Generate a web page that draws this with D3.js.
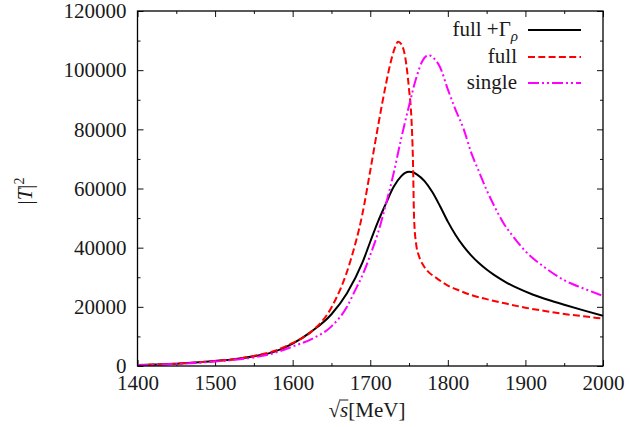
<!DOCTYPE html>
<html>
<head>
<meta charset="utf-8">
<script src="https://cdn.jsdelivr.net/npm/d3@7"></script>
<style>
  body { margin: 0; background: white; }
  text { font-family: "Liberation Serif", "Times New Roman", serif; fill: #1a1a1a; }
</style>
</head>
<body>
<svg id="vis"></svg>
<script>
// axis ticks
const X_MAJOR = [1400, 1500, 1600, 1700, 1800, 1900, 2000]
const X_MINOR = [1450, 1550, 1650, 1750, 1850, 1950]
const Y_MAJOR = [0, 20000, 40000, 60000, 80000, 100000, 120000]
const Y_MINOR = [10000, 30000, 50000, 70000, 90000, 110000]

// full + Gamma_rho (black solid)
const fullRhoS = [1400, 1425, 1450, 1475, 1500, 1525, 1550, 1575, 1600, 1625, 1650, 1670, 1690, 1700, 1710, 1720, 1730, 1740, 1745, 1750, 1755, 1760, 1770, 1780, 1790, 1800, 1810, 1820, 1830, 1840, 1850, 1860, 1875, 1890, 1910, 1930, 1950, 1975, 2000]
const fullRhoT = [300, 500, 800, 1200, 1700, 2300, 3300, 4700, 7600, 11800, 17500, 24600, 35000, 42000, 48800, 54800, 60500, 64200, 65300, 65700, 65500, 64800, 62500, 58800, 54000, 48800, 44300, 40500, 37400, 34800, 32600, 30700, 28300, 26300, 24100, 22300, 20700, 18800, 17000]

// full (red dashed)
const fullS = [1400, 1425, 1450, 1475, 1500, 1525, 1550, 1575, 1600, 1625, 1650, 1675, 1690, 1700, 1710, 1720, 1726, 1731, 1736, 1740, 1745, 1750, 1753, 1755, 1756.5, 1759, 1763, 1768, 1775, 1785, 1800, 1815, 1830, 1850, 1875, 1900, 1925, 1950, 1975, 2000]
const fullT = [300, 500, 800, 1200, 1700, 2300, 3400, 5000, 7800, 11800, 19800, 36000, 51500, 66000, 81000, 95000, 102300, 107000, 109600, 108800, 104500, 93500, 84000, 70000, 50000, 41500, 37000, 34200, 31800, 29800, 27200, 25500, 24000, 22600, 21100, 19700, 18600, 17600, 16800, 16000]

// single (magenta dash-dot-dot)
const singleS = [1400, 1425, 1450, 1475, 1500, 1525, 1550, 1575, 1600, 1625, 1650, 1670, 1680, 1690, 1700, 1710, 1720, 1730, 1740, 1750, 1760, 1767, 1775, 1782, 1790, 1800, 1810, 1820, 1830, 1840, 1850, 1860, 1872, 1885, 1900, 1925, 1950, 1975, 2000]
const singleT = [250, 430, 700, 1050, 1500, 2100, 2900, 4300, 6600, 9200, 13400, 20000, 25300, 30700, 37500, 45000, 54500, 65000, 77000, 88000, 98000, 103000, 105100, 104000, 101000, 93500, 86600, 80400, 72200, 65800, 59500, 54000, 48200, 43500, 38800, 33300, 29000, 26200, 23700]

const LEFT = 137.5, RIGHT = 603, TOP = 11, BOTTOM = 366
const FONT = '"Liberation Serif", "Times New Roman", serif'

var svg = d3.select('#vis')
    .attr('width', 630)
    .attr('height', 427)

var x = d3.scaleLinear().domain([1400, 2000]).range([LEFT, RIGHT])
var y = d3.scaleLinear().domain([0, 120000]).range([BOTTOM, TOP])

// draw a set of inward ticks, optionally labelled
function drawTicks(axisFn, scale, values, size, pos, labels) {
    var g = svg.append('g')
        .attr('transform', pos)
        .call(axisFn(scale)
            .tickValues(values)
            .tickSize(size)
            .tickPadding(12)
            .tickFormat(labels ? d3.format('d') : ''))
    g.attr('font-family', FONT).attr('font-size', 21)
    g.select('.domain').remove()
    g.selectAll('.tick line').attr('stroke', '#111').attr('stroke-width', 1)
    g.selectAll('.tick text').attr('fill', '#1a1a1a')
    return g
}

// bottom / top
drawTicks(d3.axisBottom, x, X_MAJOR, -6, `translate(0,${BOTTOM})`, true)
    .selectAll('.tick text').attr('y', 9).attr('dy', '0.71em')
drawTicks(d3.axisBottom, x, X_MINOR, -3, `translate(0,${BOTTOM})`, false)
drawTicks(d3.axisTop, x, X_MAJOR, -6, `translate(0,${TOP})`, false)
drawTicks(d3.axisTop, x, X_MINOR, -3, `translate(0,${TOP})`, false)

// left / right
drawTicks(d3.axisLeft, y, Y_MAJOR, -6, `translate(${LEFT},0)`, true)
    .selectAll('.tick text').attr('x', -11)
drawTicks(d3.axisLeft, y, Y_MINOR, -3, `translate(${LEFT},0)`, false)
drawTicks(d3.axisRight, y, Y_MAJOR, -6, `translate(${RIGHT},0)`, false)
drawTicks(d3.axisRight, y, Y_MINOR, -3, `translate(${RIGHT},0)`, false)

// clip for the curves
svg.append('clipPath').attr('id', 'plot')
    .append('rect')
    .attr('x', LEFT).attr('y', TOP)
    .attr('width', RIGHT - LEFT).attr('height', BOTTOM - TOP)

var line = d3.line()
    .x(d => x(d[0]))
    .y(d => y(d[1]))
    .curve(d3.curveMonotoneX)

var series = [
    { s: fullRhoS, t: fullRhoT, color: '#000000', dash: null },
    { s: fullS, t: fullT, color: '#ff0000', dash: '7,3.3' },
    { s: singleS, t: singleT, color: '#ff00ff', dash: '11,3,2,3,2,3' }
]

series.forEach(function(d) {
    svg.append('path')
        .datum(d.s.map((v, i) => [v, d.t[i]]))
        .attr('clip-path', 'url(#plot)')
        .attr('d', line)
        .attr('fill', 'none')
        .attr('stroke', d.color)
        .attr('stroke-width', 2)
        .attr('stroke-dasharray', d.dash)
})

// frame
svg.append('rect')
    .attr('x', LEFT).attr('y', TOP)
    .attr('width', RIGHT - LEFT).attr('height', BOTTOM - TOP)
    .attr('fill', 'none')
    .attr('stroke', '#000')
    .attr('stroke-width', 1.3)

// legend
var legendY = [36, 63, 89]
var leg1 = svg.append('text')
    .attr('x', 518).attr('y', legendY[0])
    .attr('text-anchor', 'end')
    .attr('font-family', FONT)
    .style('font-size', '21px')
leg1.append('tspan').text('full +Γ')
leg1.append('tspan').attr('dy', 5).style('font-size', '15px').style('font-style', 'italic').text('ρ')

svg.append('text')
    .attr('x', 517).attr('y', legendY[1])
    .attr('text-anchor', 'end')
    .attr('font-family', FONT)
    .style('font-size', '21px')
    .text('full')

svg.append('text')
    .attr('x', 517).attr('y', legendY[2])
    .attr('text-anchor', 'end')
    .attr('font-family', FONT)
    .style('font-size', '21px')
    .text('single')

series.forEach(function(d, i) {
    svg.append('line')
        .attr('x1', 528).attr('x2', 581)
        .attr('y1', legendY[i] - 6).attr('y2', legendY[i] - 6)
        .attr('stroke', d.color)
        .attr('stroke-width', 2)
        .attr('stroke-dasharray', d.dash)
})

// y label
var ylab = svg.append('text')
    .attr('transform', 'translate(32,191) rotate(-90)')
    .attr('text-anchor', 'middle')
    .attr('font-family', FONT)
    .style('font-size', '21px')
ylab.append('tspan').text('|')
ylab.append('tspan').style('font-style', 'italic').text('T')
ylab.append('tspan').text('|')
ylab.append('tspan').attr('dy', -8).style('font-size', '14px').text('2')

// x label: radical with a bar over s
var xlab = svg.append('text')
    .attr('x', 367).attr('y', 417)
    .attr('text-anchor', 'middle')
    .attr('font-family', FONT)
    .style('font-size', '21px')
xlab.append('tspan').text('√')
xlab.append('tspan').style('font-style', 'italic').text('s')
xlab.append('tspan').text('[MeV]')

var r0 = xlab.node().getExtentOfChar(0)
var r1 = xlab.node().getExtentOfChar(1)
svg.append('line')
    .attr('x1', r0.x + r0.width - 1).attr('x2', r1.x + r1.width)
    .attr('y1', r0.y + 2).attr('y2', r0.y + 2)
    .attr('stroke', '#1a1a1a')
    .attr('stroke-width', 1)
</script>
</body>
</html>
